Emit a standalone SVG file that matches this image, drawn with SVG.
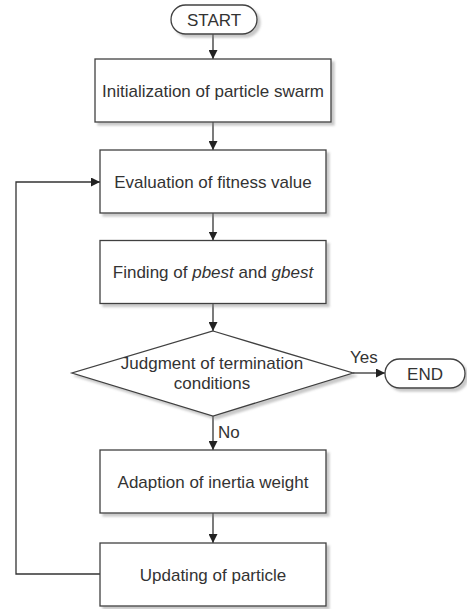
<svg xmlns="http://www.w3.org/2000/svg" width="467" height="609" viewBox="0 0 467 609">
<style>
.shape{fill:#ffffff;stroke:#404040;stroke-width:1.3;filter:url(#sh)}
.t{font-family:"Liberation Sans",Arial,sans-serif;font-size:17px;fill:#333333;text-anchor:middle}
.ts{font-family:"Liberation Sans",Arial,sans-serif;font-size:17px;fill:#333333}
.c{fill:none;stroke:#333333;stroke-width:1.3;marker-end:url(#arr)}
</style>
<defs>
<filter id="sh" x="-10%" y="-10%" width="130%" height="140%">
<feDropShadow dx="3" dy="3" stdDeviation="1" flood-color="#888888" flood-opacity="0.45"/>
</filter>
<marker id="arr" markerUnits="userSpaceOnUse" markerWidth="9" markerHeight="9" refX="9" refY="4.5" orient="auto">
<path d="M0,0 L9,4.5 L0,9 z" fill="#222222"/>
</marker>
</defs>
<rect width="467" height="609" fill="#ffffff"/>
<g id="connectors">
<line class="c" x1="213" y1="34" x2="213" y2="59"/>
<line class="c" x1="213" y1="122" x2="213" y2="150"/>
<line class="c" x1="213" y1="213" x2="213" y2="240.5"/>
<line class="c" x1="213" y1="303.5" x2="213" y2="331"/>
<line class="c" x1="353" y1="373" x2="385" y2="373"/>
<line class="c" x1="213" y1="416" x2="213" y2="450"/>
<line class="c" x1="213" y1="513" x2="213" y2="543"/>
<polyline class="c" points="100,574 16,574 16,182 100,182"/>
<text class="ts" x="350" y="363">Yes</text>
<text class="ts" x="218" y="438">No</text>
</g>
<g id="start">
<rect class="shape" x="171" y="5" width="86" height="29" rx="14.5" ry="14.5"/>
<text class="t" x="214" y="25.5">START</text>
</g>
<g id="init">
<rect class="shape" x="95" y="59" width="236" height="63"/>
<text class="t" x="213" y="96.5">Initialization of particle swarm</text>
</g>
<g id="eval">
<rect class="shape" x="100" y="150" width="226" height="63"/>
<text class="t" x="213" y="187.5">Evaluation of fitness value</text>
</g>
<g id="find">
<rect class="shape" x="100" y="240.5" width="226" height="63"/>
<text class="t" x="213" y="278">Finding of <tspan font-style="italic">pbest</tspan> and <tspan font-style="italic">gbest</tspan></text>
</g>
<g id="judge">
<polygon class="shape" points="213,331 353,373 213,416 72,373"/>
<text class="t" x="212" y="369">Judgment of termination</text>
<text class="t" x="212" y="389">conditions</text>
</g>
<g id="end">
<rect class="shape" x="385" y="359" width="80" height="29" rx="14.5" ry="14.5"/>
<text class="t" x="425" y="379.5">END</text>
</g>
<g id="adapt">
<rect class="shape" x="100" y="450" width="226" height="63"/>
<text class="t" x="213" y="487.5">Adaption of inertia weight</text>
</g>
<g id="update">
<rect class="shape" x="100" y="543" width="226" height="63"/>
<text class="t" x="213" y="580.5">Updating of particle</text>
</g>
</svg>
